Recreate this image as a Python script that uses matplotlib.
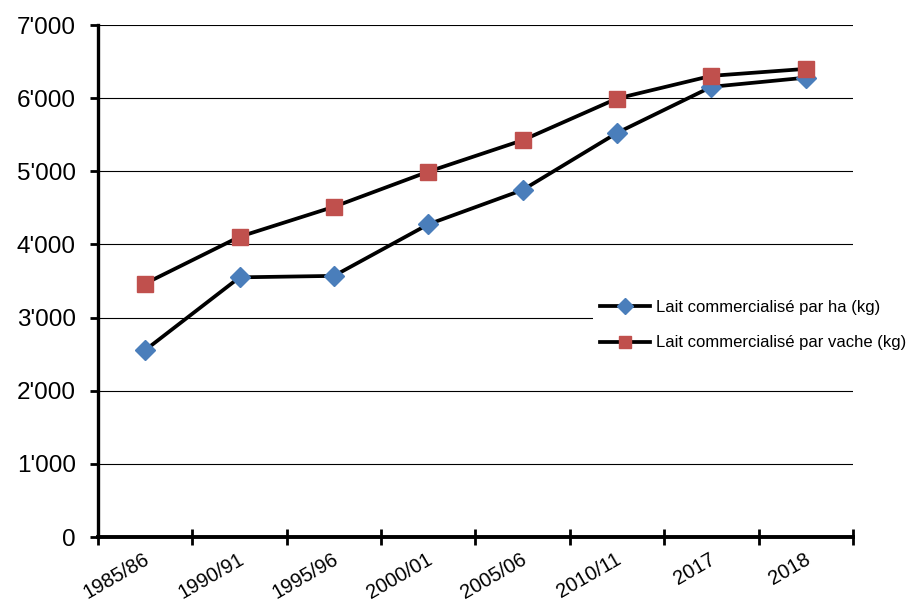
import matplotlib
matplotlib.use("Agg")
import matplotlib.pyplot as plt
import matplotlib.transforms as mtransforms
from matplotlib.ticker import FuncFormatter, FixedLocator, NullFormatter

plt.rcParams['font.family'] = ['Liberation Sans', 'DejaVu Sans']

categories = ["1985/86", "1990/91", "1995/96", "2000/01", "2005/06", "2010/11", "2017", "2018"]
per_ha = [2555, 3550, 3570, 4275, 4745, 5525, 6155, 6280]
per_vache = [3465, 4105, 4515, 4995, 5425, 5995, 6305, 6400]
y_ticks = [0, 1000, 2000, 3000, 4000, 5000, 6000, 7000]

fig = plt.figure(figsize=(9.08, 6.05), dpi=100)
ax = fig.add_axes([98/908, 1-537/605, 755/908, 512/605])

x = list(range(len(categories)))
ax.plot(x, per_ha, color='black', lw=2.7, marker='D', markersize=10,
        markerfacecolor='#4a7ebb', markeredgecolor='#4a7ebb', label='Lait commercialisé par ha (kg)', zorder=3)
ax.plot(x, per_vache, color='black', lw=2.7, marker='s', markersize=12,
        markerfacecolor='#c0504d', markeredgecolor='#c0504d', label='Lait commercialisé par vache (kg)', zorder=3)

ax.set_xlim(-0.5, len(categories) - 0.5)
ax.set_ylim(0, 7000)
ax.set_yticks(y_ticks)
ax.yaxis.set_major_formatter(FuncFormatter(lambda v, p: f"{int(v):,}".replace(",", "'")))
ax.grid(axis='y', color='black', lw=0.8)
ax.set_axisbelow(True)

ax.xaxis.set_major_locator(FixedLocator([i - 0.5 for i in range(len(categories) + 1)]))
ax.xaxis.set_major_formatter(NullFormatter())
ax.xaxis.set_minor_locator(FixedLocator(x))
ax.set_xticklabels(categories, minor=True, rotation=30, ha='right', rotation_mode='anchor', fontsize=14.5)
ax.tick_params(axis='x', which='minor', length=0, pad=9)
ax.tick_params(axis='x', which='major', direction='inout', length=12, width=2)
ax.tick_params(axis='y', direction='out', length=6, width=2, labelsize=17.5, pad=10)
offset = mtransforms.ScaledTranslation(-2/100, 0, fig.dpi_scale_trans)
for lab in ax.get_xticklabels(minor=True):
    lab.set_transform(lab.get_transform() + offset)

for s in ['top', 'right']:
    ax.spines[s].set_visible(False)
ax.spines['left'].set_linewidth(2.4)
ax.spines['bottom'].set_linewidth(2.8)

leg = ax.legend(loc='upper left', bbox_to_anchor=(593/908, 1-293/605), bbox_transform=fig.transFigure,
                frameon=True, fancybox=False, edgecolor='none', facecolor='white', framealpha=1,
                fontsize=12, handlelength=3.0, labelspacing=1.25, borderaxespad=0, handletextpad=0.36)
for h in leg.legend_handles:
    h.set_markersize(8)

fig.savefig("out.png", dpi=100)
